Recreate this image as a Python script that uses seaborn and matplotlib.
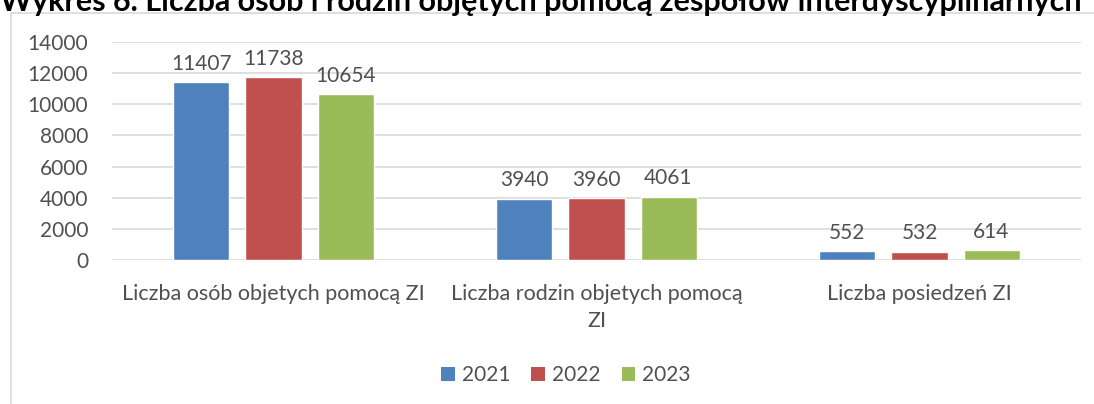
import matplotlib
matplotlib.use("Agg")
import matplotlib.pyplot as plt
import seaborn as sns
import pandas as pd
from matplotlib.patches import Rectangle, Patch

categories = ["Liczba osób objetych pomocą ZI", "Liczba rodzin objetych pomocą\nZI", "Liczba posiedzeń ZI"]
years = ["2021", "2022", "2023"]
values_2021 = [11407, 3940, 552]
values_2022 = [11738, 3960, 532]
values_2023 = [10654, 4061, 614]
colors = ["#4F81BD", "#C0504D", "#9BBB59"]
title = "Wykres 6. Liczba osób i rodzin objętych pomocą zespołów interdyscyplinarnych"

rows = []
for y, vals in zip(years, [values_2021, values_2022, values_2023]):
    for c, v in zip(categories, vals):
        rows.append({"cat": c, "year": y, "value": v})
df = pd.DataFrame(rows)

sns.set_theme(style="white")
plt.rcParams["font.family"] = ["Lato", "DejaVu Sans"]
txt = "#505050"

W, H = 1094, 404
fig = plt.figure(figsize=(W / 100, H / 100), dpi=100)
ax = fig.add_axes([112 / W, 1 - 260 / H, (1081 - 112) / W, (260 - 42) / H])

# chart frame
fig.patches.append(Rectangle((11 / W, -0.1), 1.2, 1 - 13 / H + 0.1, transform=fig.transFigure,
                             fill=False, edgecolor="#D9D9D9", linewidth=1.2, zorder=0))

sns.barplot(data=df, x="cat", y="value", hue="year", palette=colors, ax=ax,
            width=0.669, gap=0.222, saturation=1, legend=False, zorder=3)

ax.set_ylim(0, 14000)
ax.set_yticks(range(0, 14001, 2000))
ax.set_xlim(-0.5, 2.5)
ax.yaxis.grid(True, color="#D9D9D9", linewidth=1.2, zorder=0)
ax.set_axisbelow(True)
for s in ax.spines.values():
    s.set_visible(False)
ax.set_xlabel("")
ax.set_ylabel("")
ax.tick_params(axis="y", length=0, pad=17, labelsize=15, labelcolor=txt)
ax.tick_params(axis="x", length=0, pad=17, labelsize=15.5, labelcolor=txt)
for lab in ax.get_xticklabels():
    lab.set_horizontalalignment("center")
    lab.set_linespacing(1.45)

for cont in ax.containers:
    ax.bar_label(cont, fmt="%d", padding=6, fontsize=15, color=txt)

handles = [Patch(facecolor=c, edgecolor="none") for c in colors]
fig.legend(handles, years, loc="center", bbox_to_anchor=(566 / W, 1 - 375 / H), ncol=3,
           frameon=False, fontsize=15, labelcolor=txt, handlelength=0.65, handleheight=0.65,
           handletextpad=0.35, columnspacing=1.0)

fig.text(0, 1 - 11 / H, title, fontsize=22, fontweight="bold", color="black",
         ha="left", va="baseline")

fig.savefig("out.png", dpi=100)
